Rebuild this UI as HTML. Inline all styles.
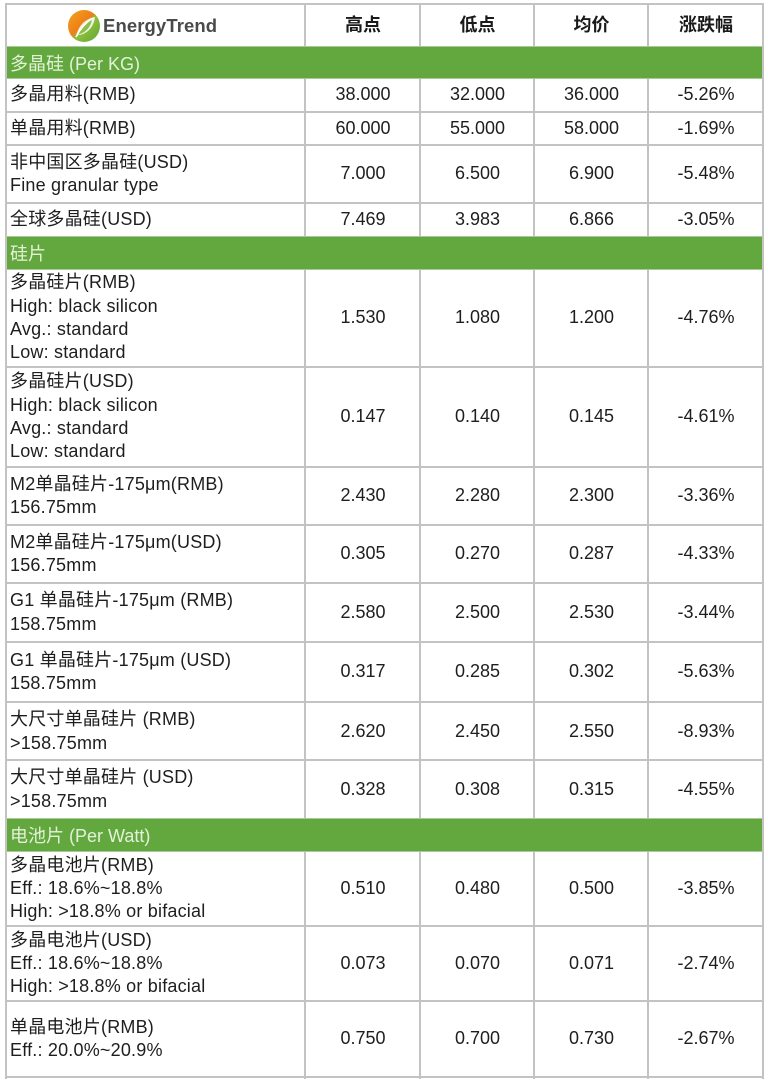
<!DOCTYPE html>
<html><head><meta charset="utf-8">
<style>
html,body{margin:0;padding:0;background:#fff;}
#w{position:relative;width:768px;height:1083px;overflow:hidden;background:#fff;font-family:"Liberation Sans","Noto Sans CJK SC",sans-serif;font-size:18px;color:#1e1e1e;}
.h{position:absolute;left:5px;width:759px;height:2px;background:#c3c3c3;}
.v{position:absolute;top:3px;width:2px;height:1076px;background:#c3c3c3;}
.row{position:absolute;left:7px;width:755px;}
.c{position:absolute;top:0;bottom:0;display:flex;align-items:center;justify-content:center;line-height:23.3px;white-space:nowrap;}
.c0{left:0;width:298px;justify-content:flex-start;padding-left:3px;letter-spacing:0.2px;}
.c1{left:299px;width:114px;}
.c2{left:414px;width:113px;}
.c3{left:528px;width:113px;}
.c4{left:642px;width:114px;}
.g{position:absolute;left:7px;width:755px;background:#63a83e;color:#e4f1d9;display:flex;align-items:center;padding-left:3px;box-sizing:border-box;border-top:1px solid #a9c99a;border-bottom:1px solid #a9c99a;}
.hd{font-weight:bold;color:#1a1a1a;}
</style></head><body><div id="w">
<!-- vertical lines -->
<div class="v" style="left:5px"></div>
<div class="v" style="left:304px"></div>
<div class="v" style="left:419px"></div>
<div class="v" style="left:533px"></div>
<div class="v" style="left:647px"></div>
<div class="v" style="left:762px"></div>
<!-- horizontal lines -->
<div class="h" style="top:3px"></div>
<div class="h" style="top:111px"></div>
<div class="h" style="top:144px"></div>
<div class="h" style="top:202px"></div>
<div class="h" style="top:366px"></div>
<div class="h" style="top:466px"></div>
<div class="h" style="top:524px"></div>
<div class="h" style="top:582px"></div>
<div class="h" style="top:641px"></div>
<div class="h" style="top:701px"></div>
<div class="h" style="top:925px"></div>
<div class="h" style="top:1000px"></div>
<div class="h" style="top:1076px"></div>

<!-- header -->
<div class="row" style="top:5px;height:41px;">
  <div class="c c0" style="padding-left:60px;letter-spacing:0;">
    <svg width="34" height="34" viewBox="0 0 34 34" style="margin-right:2px;">
      <defs>
        <linearGradient id="lg" x1="0" y1="0" x2="1" y2="1">
          <stop offset="0" stop-color="#f3a31e"/>
          <stop offset="0.45" stop-color="#ee7f1a"/>
          <stop offset="0.55" stop-color="#8fbf3a"/>
          <stop offset="1" stop-color="#5ea53a"/>
        </linearGradient>
      </defs>
      <circle cx="17" cy="17" r="16" fill="url(#lg)"/>
      <path d="M9 27 C12 16 18 10 28 8 C27 18 20 25 12 26" fill="#fff" opacity="0.85"/>
      <path d="M11 26 C14 19 19 14 25 10 C24 18 19 23 13 25Z" fill="#8cc04a"/>
      <path d="M9 28 C13 20 18 14 26 9" stroke="#fff" stroke-width="1.5" fill="none"/>
    </svg>
    <span style="font-weight:bold;font-size:18.5px;color:#4a4a4a;letter-spacing:0.1px;">EnergyTrend</span>
  </div>
  <div class="c c1 hd">高点</div>
  <div class="c c2 hd">低点</div>
  <div class="c c3 hd">均价</div>
  <div class="c c4 hd">涨跌幅</div>
</div>

<div class="g" style="top:46px;height:33px;">多晶硅 (Per KG)</div>

<div class="row" style="top:79px;height:32px;">
  <div class="c c0">多晶用料(RMB)</div><div class="c c1">38.000</div><div class="c c2">32.000</div><div class="c c3">36.000</div><div class="c c4">-5.26%</div>
</div>
<div class="row" style="top:113px;height:31px;">
  <div class="c c0">单晶用料(RMB)</div><div class="c c1">60.000</div><div class="c c2">55.000</div><div class="c c3">58.000</div><div class="c c4">-1.69%</div>
</div>
<div class="row" style="top:146px;height:56px;">
  <div class="c c0">非中国区多晶硅(USD)<br>Fine granular type</div><div class="c c1">7.000</div><div class="c c2">6.500</div><div class="c c3">6.900</div><div class="c c4">-5.48%</div>
</div>
<div class="row" style="top:204px;height:32px;">
  <div class="c c0">全球多晶硅(USD)</div><div class="c c1">7.469</div><div class="c c2">3.983</div><div class="c c3">6.866</div><div class="c c4">-3.05%</div>
</div>

<div class="g" style="top:236px;height:34px;">硅片</div>

<div class="row" style="top:270px;height:96px;">
  <div class="c c0">多晶硅片(RMB)<br>High: black silicon<br>Avg.: standard<br>Low: standard</div><div class="c c1">1.530</div><div class="c c2">1.080</div><div class="c c3">1.200</div><div class="c c4">-4.76%</div>
</div>
<div class="row" style="top:368px;height:98px;">
  <div class="c c0">多晶硅片(USD)<br>High: black silicon<br>Avg.: standard<br>Low: standard</div><div class="c c1">0.147</div><div class="c c2">0.140</div><div class="c c3">0.145</div><div class="c c4">-4.61%</div>
</div>
<div class="row" style="top:468px;height:56px;">
  <div class="c c0">M2单晶硅片-175μm(RMB)<br>156.75mm</div><div class="c c1">2.430</div><div class="c c2">2.280</div><div class="c c3">2.300</div><div class="c c4">-3.36%</div>
</div>
<div class="row" style="top:526px;height:56px;">
  <div class="c c0">M2单晶硅片-175μm(USD)<br>156.75mm</div><div class="c c1">0.305</div><div class="c c2">0.270</div><div class="c c3">0.287</div><div class="c c4">-4.33%</div>
</div>
<div class="row" style="top:584px;height:57px;">
  <div class="c c0">G1 单晶硅片-175μm (RMB)<br>158.75mm</div><div class="c c1">2.580</div><div class="c c2">2.500</div><div class="c c3">2.530</div><div class="c c4">-3.44%</div>
</div>
<div class="row" style="top:643px;height:58px;">
  <div class="c c0">G1 单晶硅片-175μm (USD)<br>158.75mm</div><div class="c c1">0.317</div><div class="c c2">0.285</div><div class="c c3">0.302</div><div class="c c4">-5.63%</div>
</div>
<div class="row" style="top:703px;height:57px;">
  <div class="c c0">大尺寸单晶硅片 (RMB)<br>&gt;158.75mm</div><div class="c c1">2.620</div><div class="c c2">2.450</div><div class="c c3">2.550</div><div class="c c4">-8.93%</div>
</div>
<div class="h" style="top:759px"></div>
<div class="row" style="top:761px;height:57px;">
  <div class="c c0">大尺寸单晶硅片 (USD)<br>&gt;158.75mm</div><div class="c c1">0.328</div><div class="c c2">0.308</div><div class="c c3">0.315</div><div class="c c4">-4.55%</div>
</div>

<div class="g" style="top:818px;height:34px;">电池片 (Per Watt)</div>

<div class="row" style="top:852px;height:73px;">
  <div class="c c0">多晶电池片(RMB)<br>Eff.: 18.6%~18.8%<br>High: &gt;18.8% or bifacial</div><div class="c c1">0.510</div><div class="c c2">0.480</div><div class="c c3">0.500</div><div class="c c4">-3.85%</div>
</div>
<div class="row" style="top:927px;height:73px;">
  <div class="c c0">多晶电池片(USD)<br>Eff.: 18.6%~18.8%<br>High: &gt;18.8% or bifacial</div><div class="c c1">0.073</div><div class="c c2">0.070</div><div class="c c3">0.071</div><div class="c c4">-2.74%</div>
</div>
<div class="row" style="top:1002px;height:74px;">
  <div class="c c0">单晶电池片(RMB)<br>Eff.: 20.0%~20.9%</div><div class="c c1">0.750</div><div class="c c2">0.700</div><div class="c c3">0.730</div><div class="c c4">-2.67%</div>
</div>
</div></body></html>
